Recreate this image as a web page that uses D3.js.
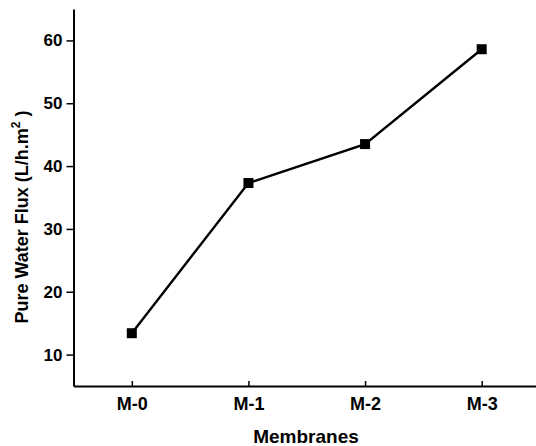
<!DOCTYPE html>
<html><head><meta charset="utf-8">
<script src="https://cdn.jsdelivr.net/npm/d3@7"></script>
<style>body{margin:0;background:#fff;} svg{display:block;}</style>
</head><body>
<svg id="c" width="536" height="446"></svg>
<script>
const categories = ["M-0", "M-1", "M-2", "M-3"];
const fluxValues = [13.4, 37.3, 43.5, 58.6];
const yTicks = [10, 20, 30, 40, 50, 60];

const svg = d3.select("#c");
const font = "'Liberation Sans', Arial, sans-serif";
const x = d3.scalePoint().domain(categories).range([73.5, 540]).padding(0.5);
const y = d3.scaleLinear().domain([5, 65]).range([386, 9]);

const xAxis = svg.append("g").attr("transform", "translate(0,386)")
  .call(d3.axisBottom(x).tickSize(6).tickSizeOuter(0).tickPadding(5));
const yAxis = svg.append("g").attr("transform", "translate(73.5,0)")
  .call(d3.axisLeft(y).tickValues(yTicks).tickSize(7).tickSizeOuter(0).tickPadding(4));

[xAxis, yAxis].forEach(g => {
  g.select(".domain").attr("stroke", "#000").attr("stroke-width", 2);
  g.selectAll(".tick line").attr("stroke", "#000").attr("stroke-width", 1.5);
  g.selectAll(".tick text").attr("fill", "#000").attr("font-family", font)
    .attr("font-weight", "bold").attr("font-size", 17);
});
xAxis.selectAll(".tick line").attr("y2", -5).attr("y1", 0);
xAxis.selectAll(".tick text").attr("font-size", 18);

const line = d3.line().x((d, i) => x(categories[i])).y(d => y(d));
svg.append("path").datum(fluxValues).attr("d", line)
  .attr("fill", "none").attr("stroke", "#000").attr("stroke-width", 2.4);

svg.selectAll("rect.pt").data(fluxValues).enter().append("rect")
  .attr("class", "pt")
  .attr("x", (d, i) => x(categories[i]) - 5)
  .attr("y", d => y(d) - 5)
  .attr("width", 10).attr("height", 10).attr("fill", "#000");

svg.append("text").attr("x", 306).attr("y", 443).attr("text-anchor", "middle")
  .attr("font-family", font).attr("font-weight", "bold").attr("font-size", 19)
  .text("Membranes");

const yt = svg.append("text").attr("transform", "translate(28,217) rotate(-90)")
  .attr("text-anchor", "middle").attr("font-family", font)
  .attr("font-weight", "bold").attr("font-size", 18);
yt.append("tspan").text("Pure Water Flux (L/h.m");
yt.append("tspan").attr("font-size", 12).attr("dy", -8).text("2");
yt.append("tspan").attr("dy", 8).text(" )");
</script>
</body></html>
